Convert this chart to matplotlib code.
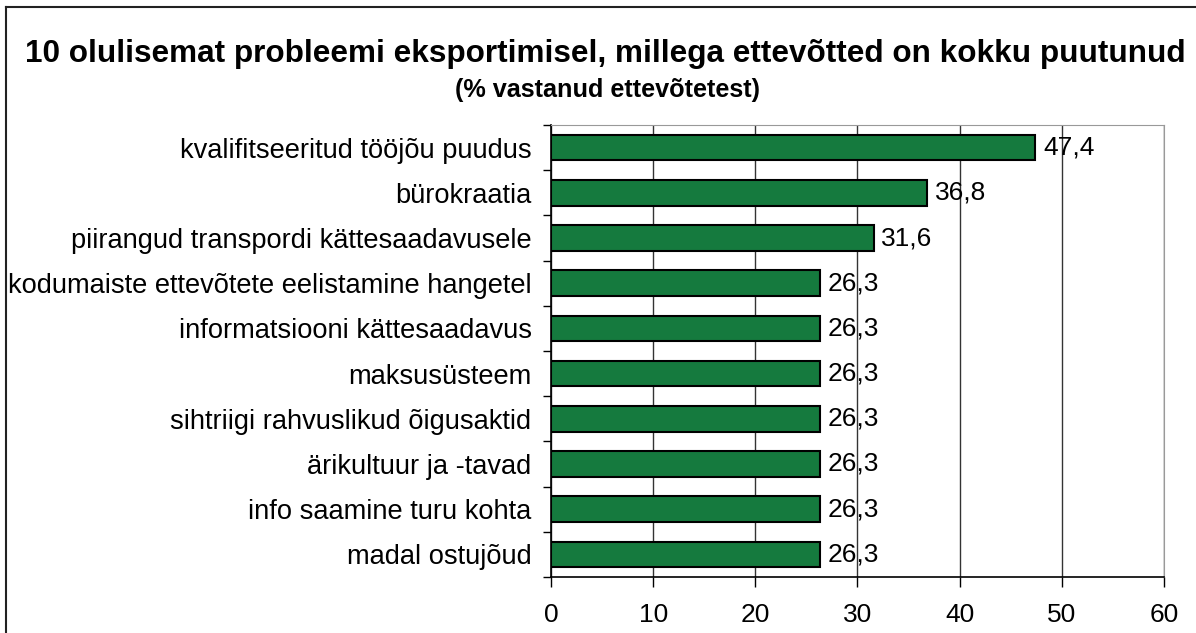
import numpy as np
import matplotlib
matplotlib.use("Agg")
import matplotlib.pyplot as plt
from matplotlib.lines import Line2D

plt.rcParams['font.family'] = ['Liberation Sans', 'DejaVu Sans']

# data, top to bottom as in the chart
categories = [
    "kvalifitseeritud tööjõu puudus",
    "bürokraatia",
    "piirangud transpordi kättesaadavusele",
    "kodumaiste ettevõtete eelistamine hangetel",
    "informatsiooni kättesaadavus",
    "maksusüsteem",
    "sihtriigi rahvuslikud õigusaktid",
    "ärikultuur ja -tavad",
    "info saamine turu kohta",
    "madal ostujõud",
]
values = [47.4, 36.8, 31.6, 26.3, 26.3, 26.3, 26.3, 26.3, 26.3, 26.3]
xticks = [0, 10, 20, 30, 40, 50, 60]

title = "10 olulisemat probleemi eksportimisel, millega ettevõtted on kokku puutunud"
subtitle = "(% vastanud ettevõtetest)"

fs = 19

fig = plt.figure(figsize=(11.96, 6.33), dpi=100)
ax = fig.add_axes([0.4607, 0.0885, 0.9732 - 0.4607, 0.8025 - 0.0885])

ypos = np.arange(len(categories))
ax.barh(ypos, values, height=0.57, color='#157a3e', edgecolor='black', linewidth=1.5, zorder=3)
for y, v in zip(ypos, values):
    ax.text(v + 0.75, y, f"{v:.1f}".replace('.', ','), va='center', ha='left',
            fontsize=fs, zorder=4)

ax.set_xlim(0, 60)
ax.set_ylim(len(categories) - 0.5, -0.5)
ax.set_xticks(xticks)
ax.set_xticklabels([str(t) for t in xticks], fontsize=fs)
ax.set_yticks(ypos)
ax.set_yticklabels(categories, fontsize=19.6)
ax.set_yticks(np.arange(len(categories) + 1) - 0.5, minor=True)
ax.tick_params(axis='y', which='major', length=0, pad=14)
ax.tick_params(axis='y', which='minor', length=6, width=1, direction='out')
ax.tick_params(axis='x', length=7, width=1, direction='out', pad=12)

ax.grid(axis='x', color='#333333', linewidth=1, zorder=0)
ax.set_axisbelow(True)
for s in ['top', 'right']:
    ax.spines[s].set_color('#999999')
for s in ['left', 'bottom']:
    ax.spines[s].set_color('black')
    ax.spines[s].set_linewidth(1.2)

fig.text(0.506, 0.902, title, ha='center', va='baseline', fontsize=22.7, fontweight='bold')
fig.text(0.508, 0.847, subtitle, ha='center', va='baseline', fontsize=18.2, fontweight='bold')

# outer frame (cut off at right and bottom)
fig.add_artist(Line2D([6 / 1196, 1], [1 - 7 / 633, 1 - 7 / 633], transform=fig.transFigure,
                      color='#222222', linewidth=1.5))
fig.add_artist(Line2D([6 / 1196, 6 / 1196], [0, 1 - 7 / 633], transform=fig.transFigure,
                      color='#222222', linewidth=1.5))

fig.savefig("out.png", dpi=100)
